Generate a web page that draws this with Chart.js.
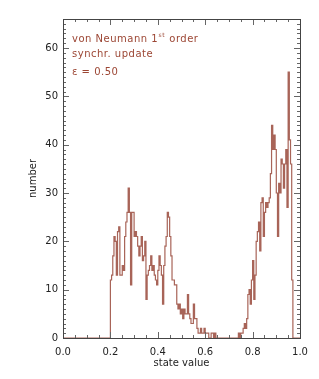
<!DOCTYPE html>
<html><head><meta charset="utf-8">
<script src="https://cdn.jsdelivr.net/npm/chart.js@4/dist/chart.umd.min.js"></script>
<style>html,body{margin:0;padding:0;background:#fff;}#wrap{width:319px;height:379px;position:relative;}</style>
</head><body><div id="wrap"><canvas id="c"></canvas></div>
<script>
// ---- data ----
const xTickLabels = ['0.0', '0.2', '0.4', '0.6', '0.8', '1.0'];
const yTickLabels = ['0', '10', '20', '30', '40', '50', '60'];
const xRange = [0, 1];
const binWidth = 0.005;
const firstBinStart = 0.2;
const counts = [
  12,13,17,21,20,13,22,23,13,13,
  15,14,21,24,26,31,26,11,26,26,
  21,22,21,19,17,19,21,16,17,20,
  8,13,14,15,17,14,15,13,12,11,
  14,17,15,13,7,15,19,21,26,25,
  21,17,12,12,11,11,7,6,7,5,
  6,4,6,5,5,9,5,4,3,3,
  7,4,4,2,1,1,2,1,1,2,
  1,1,1,0,0,1,1,0,1,0,
  0,0,0,0,0,0,0,0,0,0,
  0,0,0,0,0,0,0,0,
  1,0,1,1,2,3,2,4,9,10,
  7,12,16,8,13,20,22,24,18,28,
  29,21,26,28,27,28,29,34,44,39,
  42,39,30,21,32,30,37,36,31,36,
  39,27,55,41,36,12
];
const annotationLines = ['von Neumann 1', 'synchr. update', '\u03b5 = 0.50'];
const annotationSup = 'st';
const annotationTail = ' order';
const xTitle = 'state value';
const yTitle = 'number';

// ---- build step points ----
const points = [{x: xRange[0], y: 0}];
counts.forEach((c, k) => points.push({x: firstBinStart + k * binWidth, y: c}));
points.push({x: firstBinStart + counts.length * binWidth, y: 0});
points.push({x: xRange[1], y: 0});

const lineColor = 'rgb(168,100,88)';
const textColor = '#9c4634';
const axisColor = '#444';
const tickColor = '#666';
const FONT = '"DejaVu Sans", sans-serif';

const framePlugin = {
  id: 'frame',
  afterDatasetsDraw(chart) {
    const {ctx, chartArea: a, scales: {x, y}} = chart;
    ctx.save();
    ctx.lineWidth = 1;
    ctx.strokeStyle = tickColor;
    ctx.beginPath();
    for (let v = 0; v <= 1.0001; v += 0.05) {
      const px = Math.round(x.getPixelForValue(v)) + 0.5;
      const major = Math.abs(v / 0.2 - Math.round(v / 0.2)) < 1e-6;
      const len = major ? 6 : 3;
      ctx.moveTo(px, a.bottom); ctx.lineTo(px, a.bottom - len);
      ctx.moveTo(px, a.top); ctx.lineTo(px, a.top + len);
    }
    for (let v = 0; v <= 66; v += 1) {
      const py = Math.round(y.getPixelForValue(v)) + 0.5;
      const len = v % 10 === 0 ? 6 : 3;
      ctx.moveTo(a.left, py); ctx.lineTo(a.left + len, py);
      ctx.moveTo(a.right, py); ctx.lineTo(a.right - len, py);
    }
    ctx.stroke();
    ctx.strokeStyle = axisColor;
    ctx.strokeRect(Math.round(a.left) + 0.5, Math.round(a.top) + 0.5,
                   Math.round(a.right - a.left), Math.round(a.bottom - a.top));
    // annotation
    ctx.fillStyle = textColor;
    ctx.letterSpacing = '0.5px';
    ctx.font = '10px ' + FONT;
    ctx.textBaseline = 'alphabetic';
    const tx = a.left + 9;
    ctx.fillText(annotationLines[0], tx, a.top + 23);
    let w = ctx.measureText(annotationLines[0]).width;
    ctx.font = '6px ' + FONT;
    ctx.fillText(annotationSup, tx + w + 0.5, a.top + 18);
    const ws = ctx.measureText(annotationSup).width;
    ctx.font = '10px ' + FONT;
    ctx.fillText(annotationTail, tx + w + ws + 1, a.top + 23);
    ctx.fillText(annotationLines[1], tx, a.top + 38);
    ctx.fillText(annotationLines[2], tx, a.top + 56);
    ctx.restore();
  }
};

new Chart(document.getElementById('c'), {
  type: 'line',
  data: {
    datasets: [{
      data: points,
      stepped: 'before',
      borderColor: lineColor,
      borderWidth: 1.2,
      pointRadius: 0,
      fill: false,
      tension: 0
    }]
  },
  options: {
    responsive: true,
    maintainAspectRatio: false,
    animation: false,
    events: [],
    layout: {padding: {left: 0, right: 19, top: 19, bottom: 0}},
    plugins: {legend: {display: false}, tooltip: {enabled: false}},
    scales: {
      x: {
        type: 'linear', min: 0, max: 1,
        afterFit(s) { s.height = 41; },
        grid: {display: false, drawTicks: false},
        border: {display: false},
        ticks: {
          stepSize: 0.2, includeBounds: false, maxRotation: 0, padding: 8,
          color: '#222', font: {family: FONT, size: 10},
          callback: (v) => { const i = Math.round(v / 0.2); return xTickLabels[i]; }
        },
        title: {display: true, text: xTitle, color: '#222', font: {family: FONT, size: 10}, padding: {top: 0, bottom: 10}}
      },
      y: {
        type: 'linear', min: 0, max: 66,
        afterFit(s) { s.width = 63; },
        grid: {display: false, drawTicks: false},
        border: {display: false},
        ticks: {
          stepSize: 10, includeBounds: false, padding: 5,
          color: '#222', font: {family: FONT, size: 10},
          callback: (v) => yTickLabels[Math.round(v / 10)]
        },
        title: {display: true, text: yTitle, color: '#222', font: {family: FONT, size: 10}, padding: {top: 27, bottom: 0}}
      }
    }
  },
  plugins: [framePlugin]
});
</script></body></html>
